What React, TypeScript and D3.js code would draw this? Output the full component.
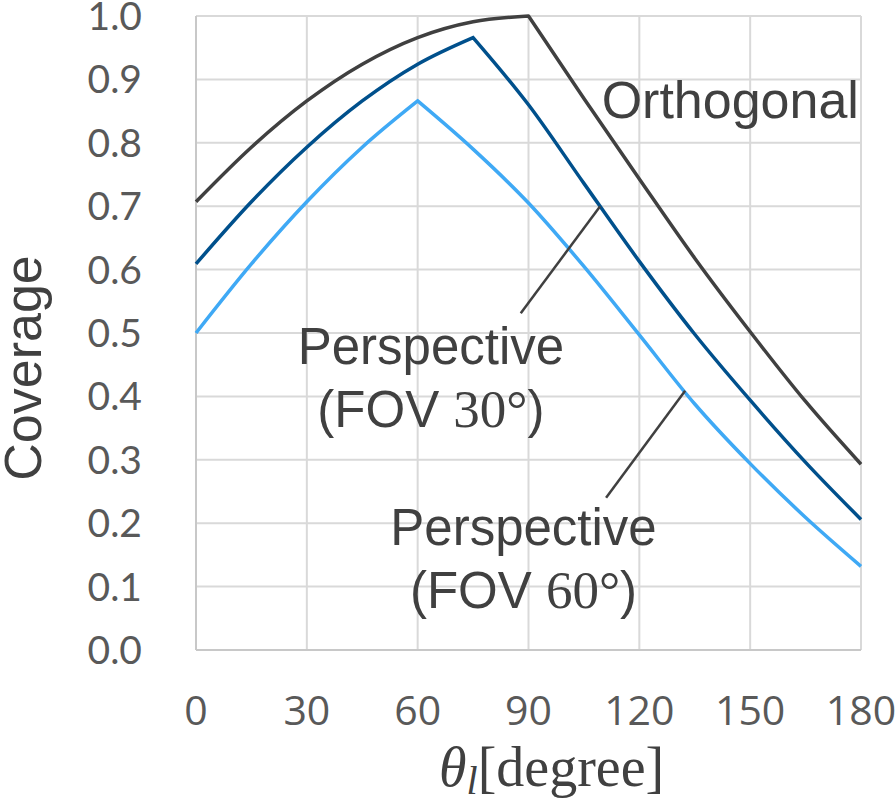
import React from "react";
import * as d3 from "d3";

const thetaDeg = [0, 15, 30, 45, 60, 75, 90, 105, 120, 135, 150, 165, 180];
const orthogonal = [0.707, 0.793, 0.866, 0.924, 0.966, 0.991, 1.0, 0.87, 0.743, 0.618, 0.502, 0.392, 0.293];
const fov30 = [0.609, 0.707, 0.793, 0.866, 0.924, 0.966, 0.86, 0.736, 0.613, 0.498, 0.394, 0.296, 0.206];
const fov60 = [0.5, 0.609, 0.707, 0.793, 0.866, 0.79, 0.705, 0.605, 0.497, 0.388, 0.294, 0.209, 0.132];
const xTicks = [0, 30, 60, 90, 120, 150, 180];
const yTicks = [0, 0.1, 0.2, 0.3, 0.4, 0.5, 0.6, 0.7, 0.8, 0.9, 1.0];

const seriesList = [
  { name: "Orthogonal", values: orthogonal, color: "#404040" },
  { name: "Perspective (FOV 30°)", values: fov30, color: "#00508C" },
  { name: "Perspective (FOV 60°)", values: fov60, color: "#3FA9F5" },
];

// annotation anchors in data space
const leader30 = [[87.9, 0.531], [109.4, 0.7]];
const leader60 = [[111.0, 0.24], [132.4, 0.409]];

const W = 895;
const H = 801;
const left = 196;
const right = 861;
const top = 16;
const bottom = 650;

export default function App() {
  const x = d3.scaleLinear().domain([0, 180]).range([left, right]);
  const y = d3.scaleLinear().domain([0, 1]).range([bottom, top]);

  const line = d3
    .line<[number, number]>()
    .x((d) => x(d[0]))
    .y((d) => y(d[1]))
    .curve(d3.curveMonotoneX);

  const pathFor = (vals: number[]) => {
    const pts: [number, number][] = thetaDeg.map((t, i) => [t, vals[i]]);
    const peak = d3.maxIndex(vals);
    const a = line(pts.slice(0, peak + 1)) || "";
    const b = line(pts.slice(peak)) || "";
    return a + b.replace(/^M/, "L");
  };

  const sans = "'Liberation Sans', Arial, sans-serif";
  const serif = "'Liberation Serif', 'Times New Roman', serif";

  return (
    <svg
      width={W}
      height={H}
      viewBox={`0 0 ${W} ${H}`}
      style={{ position: "absolute", left: 0, top: 0, background: "#fff" }}
    >
      {/* grid */}
      {yTicks.map((t) => (
        <line key={"gy" + t} x1={left} x2={right} y1={y(t)} y2={y(t)} stroke="#D9D9D9" strokeWidth={2} />
      ))}
      {xTicks.map((t) => (
        <line key={"gx" + t} x1={x(t)} x2={x(t)} y1={top} y2={bottom} stroke="#D9D9D9" strokeWidth={2} />
      ))}
      <line x1={left} x2={left} y1={top} y2={bottom} stroke="#C8C8C8" strokeWidth={2} />
      <line x1={left} x2={right} y1={bottom} y2={bottom} stroke="#C8C8C8" strokeWidth={2} />

      {/* series */}
      {seriesList.map((s) => (
        <path
          key={s.name}
          d={pathFor(s.values)}
          fill="none"
          stroke={s.color}
          strokeWidth={3.5}
          strokeLinejoin="miter"
        />
      ))}

      {/* leader lines */}
      <line x1={x(leader30[0][0])} y1={y(leader30[0][1])} x2={x(leader30[1][0])} y2={y(leader30[1][1])} stroke="#404040" strokeWidth={2.5} />
      <line x1={x(leader60[0][0])} y1={y(leader60[0][1])} x2={x(leader60[1][0])} y2={y(leader60[1][1])} stroke="#404040" strokeWidth={2.5} />

      {/* annotations */}
      <text x={x(109.8)} y={y(0.839)} fontFamily={sans} fontSize={52} fill="#404040">
        Orthogonal
      </text>
      <text x={x(63.6)} y={y(0.451)} fontFamily={sans} fontSize={51} fill="#404040" textAnchor="middle">
        Perspective
      </text>
      <text x={x(63.6)} y={y(0.352)} fontFamily={sans} fontSize={51} fill="#404040" textAnchor="middle">
        (FOV <tspan fontFamily={serif} fontSize={53}>30°</tspan>)
      </text>
      <text x={x(88.65)} y={y(0.166)} fontFamily={sans} fontSize={51} fill="#404040" textAnchor="middle">
        Perspective
      </text>
      <text x={x(88.65)} y={y(0.066)} fontFamily={sans} fontSize={51} fill="#404040" textAnchor="middle">
        (FOV <tspan fontFamily={serif} fontSize={53}>60°</tspan>)
      </text>

      {/* y tick labels */}
      {yTicks.map((t) => (
        <text
          key={"yl" + t}
          x={142}
          y={y(t)}
          dy="0.36em"
          textAnchor="end"
          fontFamily="Lato, sans-serif"
          fontSize={39}
          fill="#595959"
        >
          {t.toFixed(1)}
        </text>
      ))}

      {/* x tick labels */}
      {xTicks.map((t) => (
        <text
          key={"xl" + t}
          x={x(t)}
          y={725}
          textAnchor="middle"
          fontFamily="'Open Sans', sans-serif"
          fontSize={41}
          fill="#595959"
        >
          {t}
        </text>
      ))}

      {/* axis titles */}
      <text
        transform={`translate(41,368) rotate(-90)`}
        textAnchor="middle"
        fontFamily={sans}
        fontSize={52}
        fill="#404040"
      >
        Coverage
      </text>
      <text x={439} y={786} fontFamily={serif} fontSize={56} fill="#404040">
        <tspan fontStyle="italic">θ</tspan>
        <tspan fontStyle="italic" fontSize={40} dy={8}>l</tspan>
        <tspan dy={-8}>[degree]</tspan>
      </text>
    </svg>
  );
}
